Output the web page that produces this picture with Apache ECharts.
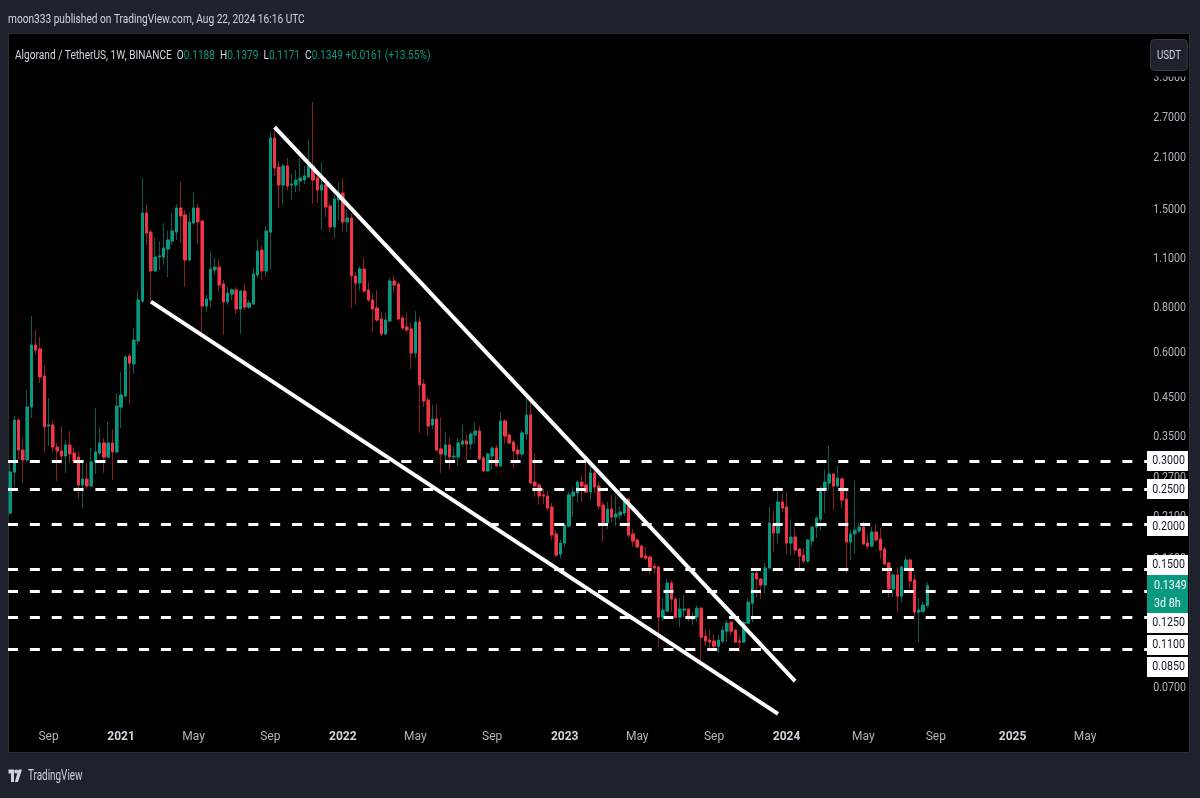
<!DOCTYPE html>
<html>
<head>
<meta charset="utf-8">
<title>ALGO/USDT 1W</title>
<script src="https://cdn.jsdelivr.net/npm/echarts@6/dist/echarts.min.js"></script>
<style>
  html, body { margin: 0; padding: 0; background: #1e222d; }
  #chart { width: 1200px; height: 798px; }
</style>
</head>
<body>
<div id="chart"></div>
<script>
var FONT = 'Roboto, sans-serif';
// no narrow font installed, so texts on the frame are squeezed horizontally
var SQUEEZE = 0.78;
var UP = '#089981', DOWN = '#f23645';
var UP_WICK = '#0c5c4f', DOWN_WICK = '#8c1d27';

// first weekly bar on screen, and how many week slots the time axis holds (incl. empty future)
var firstWeek = '2020-07-06';
var weekSlots = 267;

// weekly candles [open, close, low, high]
var ohlc = [
  [0.2149,0.2796,0.2122,0.2962],[0.2796,0.3901,0.2540,0.4003],[0.3901,0.3219,0.3020,0.3952],[0.3219,0.3020,0.2605,0.3476],[0.3020,0.4241,0.2981,0.4729],
  [0.4241,0.6310,0.3952,0.7600],[0.6310,0.6111,0.5918,0.6947],[0.6150,0.5140,0.4946,0.6643],[0.5173,0.3731,0.3158,0.5551],[0.3755,0.3779,0.3303,0.4493],
  [0.3779,0.3281,0.3158,0.3901],[0.3281,0.3199,0.2639,0.3367],[0.3199,0.3098,0.3020,0.3755],[0.3098,0.3324,0.2778,0.3432],[0.3324,0.3138,0.2962,0.3636],
  [0.3158,0.3000,0.2962,0.3281],[0.3078,0.2572,0.2366,0.3179],[0.2572,0.2673,0.2219,0.2962],[0.2673,0.2556,0.2507,0.2962],[0.2556,0.2981,0.2540,0.3260],
  [0.2981,0.3179,0.2761,0.4213],[0.3158,0.3367,0.3118,0.3731],[0.3367,0.3078,0.2778,0.3476],[0.3078,0.3367,0.3059,0.3852],[0.3367,0.3179,0.2656,0.3683],
  [0.3179,0.4268,0.3158,0.4639],[0.4241,0.4580,0.3707,0.5307],[0.4551,0.5843,0.4522,0.5918],[0.5881,0.5623,0.4323,0.5995],[0.5587,0.6515,0.5240,0.7037],
  [0.6474,0.8420,0.6310,0.8920],[0.8366,1.4709,0.8260,1.8407],[1.4709,1.2939,1.1980,1.5482],[1.3021,1.0141,0.8366,1.3189],[1.0141,1.1094,1.0076,1.2529],
  [1.1094,1.1165,1.0206,1.2291],[1.1094,1.1752,1.0539,1.3796],[1.1676,1.2370,0.9759,1.3105],[1.2291,1.3105,1.1980,1.4709],[1.3021,1.5187,1.2370,1.5582],
  [1.5187,1.4429,1.2135,1.7941],[1.4521,1.0881,0.9152,1.4993],[1.0881,1.3884,1.0812,1.4709],[1.3796,1.5187,1.3619,1.6828],[1.5187,1.3884,1.2057,1.5582],
  [1.3973,0.8102,0.6815,1.4062],[0.8102,0.8474,0.7797,0.8694],[0.8420,1.0272,0.8050,1.1528],[1.0206,1.0404,0.9884,1.1022],[1.0404,0.9270,0.8863,1.0951],
  [0.9330,0.8312,0.6728,0.9572],[0.8312,0.8807,0.8154,0.9152],[0.8751,0.8977,0.8420,0.9094],[0.8977,0.7948,0.7698,0.9152],[0.7948,0.8920,0.6772,0.8977],
  [0.8920,0.8050,0.7897,0.9330],[0.8050,0.8260,0.7948,0.8420],[0.8207,0.9948,0.8154,1.0337],[0.9884,1.1528,0.9759,1.2450],[1.1602,1.0141,0.9572,1.1904],
  [1.0141,1.3105,0.9759,1.3533],[1.3021,2.3788,1.0206,2.4880],[2.3788,1.9626,1.8646,2.5039],[1.9753,1.7600,1.5187,2.0527],[1.7600,1.9880,1.5482,2.0137],
  [1.9880,1.7488,1.7044,2.0925],[1.7600,1.7714,1.5986,1.8886],[1.7600,1.8173,1.6828,1.9375],[1.8057,1.8407,1.6936,2.0925],[1.8173,1.8646,1.7714,1.9880],
  [1.8526,1.9880,1.8407,2.3636],[1.9880,1.8173,1.5582,2.9964],[1.8407,1.7044,1.5682,1.9375],[1.7044,1.7600,1.3189,2.0396],[1.7600,1.5285,1.4336,1.8526],
  [1.5384,1.3446,1.3021,1.5682],[1.3446,1.6089,1.2529,1.6507],[1.5986,1.6721,1.4062,1.7828],[1.6721,1.3884,1.3105,1.8407],[1.3884,1.4244,1.3021,1.4993],
  [1.4244,0.9822,0.7999,1.4615],[0.9822,0.9390,0.8154,1.0076],[0.9390,1.0272,0.8977,1.0471],[1.0272,0.8920,0.8807,1.1022],[0.8977,0.8420,0.8312,0.9450],
  [0.8420,0.7948,0.6859,0.8807],[0.7999,0.7407,0.7313,0.8977],[0.7455,0.6772,0.6686,0.7797],[0.6772,0.7407,0.6728,0.7747],[0.7360,0.9511,0.7313,0.9696],
  [0.9511,0.9270,0.8807,0.9884],[0.9330,0.7455,0.7360,0.9450],[0.7503,0.7037,0.6947,0.7648],[0.7083,0.6947,0.6859,0.7747],[0.6992,0.5995,0.5410,0.7313],
  [0.5995,0.7313,0.5806,0.7847],[0.7313,0.4883,0.3590,0.7551],[0.4915,0.4407,0.4241,0.5075],[0.4435,0.3755,0.3521,0.4522],[0.3779,0.3927,0.3683,0.4296],
  [0.3927,0.3219,0.3190,0.4323],[0.3240,0.3138,0.2778,0.3977],[0.3118,0.3324,0.2962,0.3613],[0.3324,0.3078,0.2832,0.3476],[0.3078,0.3098,0.3020,0.3281],
  [0.3078,0.3367,0.2906,0.3476],[0.3345,0.3410,0.3281,0.3779],[0.3410,0.3345,0.3020,0.3567],[0.3345,0.3567,0.3219,0.3636],[0.3544,0.3636,0.3345,0.3852],
  [0.3636,0.3039,0.3020,0.3755],[0.3059,0.2814,0.2796,0.3098],[0.2814,0.3138,0.2800,0.3158],[0.3098,0.3260,0.2832,0.3303],[0.3260,0.2906,0.2890,0.3324],
  [0.2906,0.3877,0.2890,0.4107],[0.3877,0.3521,0.3345,0.3927],[0.3544,0.3367,0.3345,0.3590],[0.3388,0.3199,0.2868,0.3432],[0.3219,0.3138,0.3020,0.3303],
  [0.3138,0.3590,0.3078,0.3659],[0.3567,0.4028,0.3432,0.4522],[0.4028,0.2605,0.2590,0.4493],[0.2622,0.2556,0.2382,0.3138],[0.2572,0.2397,0.2262,0.2605],
  [0.2412,0.2397,0.2277,0.2507],[0.2397,0.2219,0.2177,0.2475],[0.2234,0.1867,0.1808,0.2292],[0.1879,0.1641,0.1620,0.1927],[0.1652,0.1773,0.1610,0.1808],
  [0.1773,0.1990,0.1728,0.2003],[0.1978,0.2412,0.1965,0.2459],[0.2397,0.2459,0.2095,0.2540],[0.2444,0.2622,0.2292,0.2656],[0.2622,0.2556,0.2306,0.2743],
  [0.2572,0.2459,0.2444,0.2981],[0.2459,0.2778,0.2336,0.2962],[0.2778,0.2540,0.2444,0.2924],[0.2556,0.2248,0.2205,0.2622],[0.2262,0.2016,0.1785,0.2306],
  [0.2016,0.2205,0.1940,0.2306],[0.2205,0.2095,0.2029,0.2412],[0.2095,0.2136,0.1978,0.2397],[0.2122,0.2163,0.2068,0.2248],[0.2149,0.2351,0.2108,0.2366],
  [0.2351,0.1867,0.1831,0.2366],[0.1879,0.1796,0.1728,0.1940],[0.1808,0.1728,0.1720,0.1831],[0.1739,0.1620,0.1610,0.1750],[0.1631,0.1610,0.1590,0.1728],
  [0.1620,0.1520,0.1445,0.1641],[0.1530,0.1511,0.1454,0.1560],[0.1520,0.1103,0.0910,0.1530],[0.1103,0.1153,0.1075,0.1246],[0.1146,0.1372,0.1139,0.1408],
  [0.1372,0.1238,0.1139,0.1399],[0.1238,0.1103,0.1096,0.1254],[0.1103,0.1161,0.1034,0.1246],[0.1153,0.1161,0.1103,0.1270],[0.1161,0.1096,0.1068,0.1165],
  [0.1089,0.1103,0.1048,0.1139],[0.1103,0.1168,0.1068,0.1191],[0.1168,0.0970,0.0821,0.1176],[0.0976,0.0946,0.0916,0.1021],[0.0952,0.0940,0.0904,0.1021],
  [0.0946,0.0916,0.0887,0.0989],[0.0916,0.0952,0.0876,0.0982],[0.0946,0.1014,0.0934,0.1041],[0.1008,0.1061,0.0940,0.1082],[0.1068,0.1008,0.0982,0.1070],
  [0.1014,0.0940,0.0934,0.1021],[0.0946,0.0940,0.0881,0.0982],[0.0940,0.1068,0.0934,0.1075],[0.1061,0.1214,0.1055,0.1246],[0.1206,0.1463,0.1068,0.1470],
  [0.1463,0.1408,0.1254,0.1492],[0.1408,0.1355,0.1238,0.1417],[0.1355,0.1511,0.1286,0.1560],[0.1511,0.2016,0.1501,0.2234],[0.1990,0.1891,0.1673,0.2177],
  [0.1891,0.2306,0.1773,0.2540],[0.2306,0.2219,0.2163,0.2428],[0.2234,0.1773,0.1652,0.2444],[0.1773,0.1843,0.1641,0.2068],[0.1843,0.1695,0.1652,0.1965],
  [0.1706,0.1631,0.1501,0.1717],[0.1641,0.1580,0.1560,0.1717],[0.1580,0.1808,0.1560,0.1810],[0.1796,0.1965,0.1728,0.1970],[0.1965,0.2081,0.1831,0.2108],
  [0.2068,0.2507,0.1927,0.2556],[0.2491,0.2622,0.2149,0.2850],[0.2605,0.2761,0.2491,0.3303],[0.2761,0.2556,0.2191,0.2778],[0.2556,0.2690,0.2540,0.2906],
  [0.2673,0.2336,0.2219,0.2708],[0.2351,0.1785,0.1463,0.2491],[0.1785,0.1879,0.1590,0.1927],[0.1879,0.1927,0.1652,0.2639],[0.1915,0.1965,0.1891,0.2016],
  [0.1965,0.1762,0.1750,0.2029],[0.1773,0.1739,0.1706,0.1867],[0.1739,0.1903,0.1728,0.1965],[0.1903,0.1808,0.1785,0.2003],[0.1819,0.1695,0.1600,0.1952],
  [0.1706,0.1550,0.1540,0.1728],[0.1560,0.1321,0.1254,0.1565],[0.1321,0.1445,0.1254,0.1463],[0.1445,0.1262,0.1139,0.1520],[0.1262,0.1520,0.1214,0.1540],
  [0.1511,0.1590,0.1501,0.1631],[0.1590,0.1390,0.1329,0.1610],[0.1399,0.1139,0.1103,0.1454],[0.1139,0.1153,0.0940,0.1246],[0.1146,0.1191,0.1132,0.1222],
  [0.1188,0.1349,0.1171,0.1379]
];

// price scale labels on the right
var priceTicks = [3.5, 2.7, 2.1, 1.5, 1.1, 0.8, 0.6, 0.45, 0.35, 0.27, 0.21, 0.16, 0.12, 0.09, 0.07];
// dashed horizontal levels
var levelPrices = [0.3, 0.25, 0.2, 0.15, 0.125, 0.11, 0.085];
var lastPrice = 0.1349;
var lastCountdown = '3d 8h';
// falling wedge, [week index, price]
var upperTrend = [[62, 2.551], [184, 0.0732]];
var lowerTrend = [[33, 0.8334], [180, 0.0593]];
var monthNames = ['Jan','Feb','Mar','Apr','May','Jun','Jul','Aug','Sep','Oct','Nov','Dec'];

// TradingView pushes the level tags up/down so they don't overlap (px)
var levelBoxShift = [0, 0, 2, -4, 25, 27, 9];

var weeks = [];
var t0 = Date.parse(firstWeek + 'T00:00:00Z');
for (var i = 0; i < weekSlots; i++) {
  weeks.push(new Date(t0 + i * 7 * 864e5).toISOString().slice(0, 10));
}

// body-only copy: wick collapsed onto the body so the darker wick series shows underneath
var bodies = ohlc.map(function (d) {
  return [d[0], d[1], Math.min(d[0], d[1]), Math.max(d[0], d[1])];
});

var chart = echarts.init(document.getElementById('chart'), null, { renderer: 'canvas' });

var option = {
  backgroundColor: '#1e222d',
  animation: false,
  grid: { left: 8, right: 53, top: 35, bottom: 73 },
  xAxis: {
    type: 'category',
    data: weeks,
    boundaryGap: true,
    axisLine: { show: false },
    axisTick: { show: false },
    splitLine: { show: false },
    axisLabel: {
      margin: 6,
      fontFamily: FONT,
      fontSize: 12,
      interval: function (idx, value) {
        var d = new Date(value + 'T00:00:00Z');
        return d.getUTCDate() <= 7 && d.getUTCMonth() % 4 === 0;
      },
      formatter: function (value) {
        var d = new Date(value + 'T00:00:00Z');
        var m = d.getUTCMonth();
        return m === 0 ? '{y|' + d.getUTCFullYear() + '}' : '{m|' + monthNames[m] + '}';
      },
      rich: {
        y: { color: '#d1d4dc', fontWeight: 'bold', fontSize: 12, fontFamily: FONT },
        m: { color: '#b2b5be', fontSize: 12, fontFamily: FONT }
      }
    }
  },
  yAxis: {
    type: 'log',
    logBase: 10,
    min: 0.05524,
    max: 4.603,
    position: 'right',
    axisLine: { show: false },
    axisTick: { show: false },
    axisLabel: { show: false },
    splitLine: { show: false }
  },
  series: [
    {
      name: 'wick',
      type: 'candlestick',
      data: ohlc,
      barWidth: 3,
      silent: true,
      itemStyle: {
        color: UP_WICK, color0: DOWN_WICK,
        borderColor: UP_WICK, borderColor0: DOWN_WICK, borderWidth: 1
      }
    },
    {
      name: 'body',
      type: 'candlestick',
      data: bodies,
      barWidth: 2.6,
      silent: true,
      itemStyle: {
        color: UP, color0: DOWN,
        borderColor: UP, borderColor0: DOWN, borderWidth: 1
      },
      markLine: {
        symbol: 'none',
        silent: true,
        animation: false,
        lineStyle: { color: '#ffffff', width: 3, type: [10, 11.85], opacity: 1 },
        label: { show: false },
        data: levelPrices.map(function (v) { return { yAxis: v }; })
      }
    },
    {
      name: 'upper',
      type: 'line',
      data: upperTrend,
      symbol: 'none',
      silent: true,
      z: 4,
      lineStyle: { color: '#ffffff', width: 4 }
    },
    {
      name: 'lower',
      type: 'line',
      data: lowerTrend,
      symbol: 'none',
      silent: true,
      z: 4,
      lineStyle: { color: '#ffffff', width: 4 }
    }
  ]
};

chart.setOption(option);

// ---- frame, header and price scale texts (placed through the y axis scale) ----
function priceY(v) {
  return chart.convertToPixel({ yAxisIndex: 0 }, v);
}

function squeezedText(x, y, text, opts) {
  return {
    type: 'text', silent: true, z: opts.z || 10, x: x, y: y,
    scaleX: opts.scale || SQUEEZE,
    style: {
      text: text, fill: opts.fill || '#d1d4dc',
      font: (opts.weight ? opts.weight + ' ' : '') + (opts.size || 13) + 'px ' + FONT,
      align: opts.align || 'left', verticalAlign: 'middle', rich: opts.rich
    }
  };
}

var els = [];
els.push({ type: 'rect', z: -10, silent: true,
  shape: { x: 8.5, y: 33.5, width: 1181, height: 719 },
  style: { fill: '#000000', stroke: '#2a2e39', lineWidth: 1 } });

els.push(squeezedText(8, 20, 'moon333 published on TradingView.com, Aug 22, 2024 16:16 UTC', { size: 13 }));
els.push(squeezedText(15, 56,
  '{n|Algorand / TetherUS, 1W, BINANCE}  {k|O}{v|0.1188}  {k|H}{v|0.1379}  {k|L}{v|0.1171}  {k|C}{v|0.1349} {v|+0.0161 (+13.55%)}',
  { size: 13, rich: {
      n: { fill: '#d1d4dc', font: '13px ' + FONT },
      k: { fill: '#d1d4dc', font: '13px ' + FONT },
      v: { fill: UP, font: '13px ' + FONT }
  } }));

// price scale tick labels
priceTicks.forEach(function (v) {
  els.push(squeezedText(1186, priceY(v), v.toFixed(4), { size: 13, align: 'right', fill: '#b2b5be', z: 40, scale: 0.82 }));
});

// white tags of the dashed levels
levelPrices.forEach(function (v, k) {
  var y = priceY(v) + levelBoxShift[k];
  els.push({ type: 'rect', z: 45, silent: true,
    shape: { x: 1147, y: Math.round(y) - 10, width: 41, height: 20 },
    style: { fill: '#ffffff' } });
  els.push(squeezedText(1185, y, v.toFixed(4), { size: 13, align: 'right', fill: '#131722', z: 46, scale: 0.82 }));
});

// green last-price tag with countdown
var ly = priceY(lastPrice);
els.push({ type: 'rect', z: 47, silent: true,
  shape: { x: 1147, y: Math.round(ly) - 11, width: 41, height: 38 },
  style: { fill: UP } });
els.push(squeezedText(1154, ly, lastPrice.toFixed(4), { size: 13, fill: '#ffffff', z: 48, scale: 0.82 }));
els.push(squeezedText(1154, ly + 18, lastCountdown, { size: 13, fill: '#ffffff', z: 48, scale: 0.82 }));

// top of the price scale behind the currency button
els.push({ type: 'rect', z: 50, silent: true,
  shape: { x: 1148, y: 34, width: 41, height: 42.5 }, style: { fill: '#000000' } });
els.push({ type: 'rect', z: 51, silent: true,
  shape: { x: 1150.5, y: 39.5, width: 37, height: 31, r: 4 },
  style: { fill: '#1e222d', stroke: '#363a45', lineWidth: 1 } });
els.push(squeezedText(1169, 55.5, 'USDT', { size: 13, align: 'center', z: 52, scale: 0.75 }));

// TradingView logo
els.push({ type: 'polygon', z: 10, silent: true,
  shape: { points: [[8.5, 769.5], [14, 769.5], [14, 782], [11, 782], [11, 773.5], [8.5, 773.5]] },
  style: { fill: '#d1d4dc' } });
els.push({ type: 'circle', z: 10, silent: true,
  shape: { cx: 16.2, cy: 771.5, r: 1.9 }, style: { fill: '#d1d4dc' } });
els.push({ type: 'polygon', z: 10, silent: true,
  shape: { points: [[18.5, 769.5], [22, 769.5], [18, 782], [14.8, 782]] },
  style: { fill: '#d1d4dc' } });
els.push(squeezedText(28, 776, 'TradingView', { size: 15, scale: 0.66 }));

chart.setOption({ graphic: { elements: els } });
</script>
</body>
</html>
